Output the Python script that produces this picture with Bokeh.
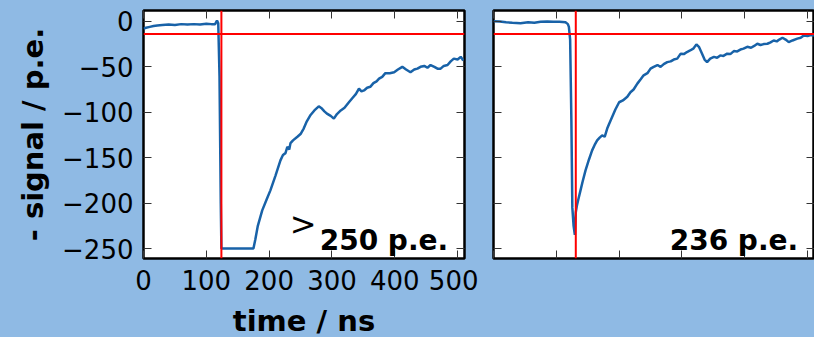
from bokeh.plotting import figure
from bokeh.models import Range1d, LinearAxis, FixedTicker, Span, Label, CustomJSTickFormatter
from bokeh.layouts import row
from bokeh.embed import file_html
from bokeh.resources import INLINE

# ---- data ----
x_ticks = [0, 100, 200, 300, 400, 500]
y_ticks = [-250, -200, -150, -100, -50, 0]
y_tick_labels = {-250: "\u2212250", -200: "\u2212200", -150: "\u2212150",
                 -100: "\u2212100", -50: "\u221250", 0: "0"}

left_t = [0, 4, 10, 16, 22, 30, 40, 50, 60, 70, 80, 90, 100, 108, 114, 117, 119, 121, 123, 124,
          150, 175, 178, 182, 189, 196, 202, 210, 218, 222, 226, 229, 232, 234, 238, 245, 250,
          255, 260, 266, 272, 279, 284, 288, 292, 298, 303, 308, 314, 320, 327, 333, 338, 343,
          347, 351, 356, 361, 366, 371, 375, 380, 385, 392, 399, 405, 412, 418, 425, 431, 436,
          441, 447, 452, 457, 463, 468, 473, 478, 484, 489, 494, 500, 505, 509]
left_v = [-8, -7, -6, -5, -4.4, -4, -3.5, -4, -3, -3.5, -3, -3.5, -2.5, -3, -3, 1, -2, -60, -200, -250,
          -250, -250, -240, -225, -208, -196, -186, -170, -153, -147, -145, -138, -141, -134, -131, -127, -124,
          -118, -110, -103, -98, -93.5, -96, -99, -101.5, -104, -107, -102, -98, -95, -89, -84, -80, -74,
          -77, -76, -73, -72, -68, -66, -63, -61, -57, -57, -56, -53, -50, -53, -56, -53, -52,
          -50, -49, -51, -48, -50, -52, -52, -49, -48, -44, -41, -42, -39, -43]

right_t = [0, 10, 20, 30, 43, 55, 65, 75, 85.5, 95, 105, 114.6, 118.4, 120, 122, 124, 125.5, 127.5,
           129.5, 131, 133, 135, 138.5, 142, 146.5, 152, 157, 161, 165, 169, 173, 177, 181, 184,
           189, 194, 200, 206, 213, 218, 223, 229, 234, 239, 245, 250, 255, 261, 266, 271, 276.6,
           282, 287, 292.5, 298, 303, 308, 313, 318, 323, 327, 332, 336, 340, 345, 351, 356, 361,
           366, 372, 377, 382.6, 388, 393, 398, 404, 410, 415, 420, 425, 430, 436, 441, 446, 451,
           455, 460, 465, 470, 476, 483.6, 489, 494, 500, 505, 510]
right_v = [0.3, 0, -1, -1.5, -2, -1, -1.5, -0.5, 0, -0.5, -0.5, -1, -3, -6, -20, -110, -205, -225,
           -235, -210, -202, -196, -186, -176, -164, -152, -142, -136, -131, -128, -125.5, -127, -118, -113,
           -105, -97, -89, -87, -83, -78, -75, -68.5, -64, -59.4, -57, -52, -50, -48, -50, -47, -44.8,
           -44, -42, -41, -35.5, -36, -33.7, -32, -30, -25.3, -28, -35.5, -42, -44.8, -41, -39, -40, -37.4,
           -38, -35.5, -36, -32.7, -33, -31, -30, -28, -29, -27, -24.6, -26, -25, -24.6, -23, -21, -22,
           -20, -18, -20, -22.8, -21, -19, -18, -15.4, -16, -15, -15.4]

threshold = -14
left_trigger = 124
right_trigger = 131
left_text = "250 p.e."
right_text = "236 p.e."

BG = "#8fbae4"
LINE = "#1862a8"
FONT = "DejaVu Sans"

EMPTY = CustomJSTickFormatter(code="return '';")


def make_fig(t, v, trigger, text, show_labels, min_left, min_right, width):
    p = figure(width=width, height=337, output_backend="svg", toolbar_location=None,
               x_range=Range1d(0, 511), y_range=Range1d(-261, 12),
               frame_width=321, frame_height=248,
               min_border_left=min_left, min_border_right=min_right,
               min_border_top=10, min_border_bottom=79)
    p.background_fill_color = "white"
    p.border_fill_color = BG
    p.outline_line_color = "black"
    p.outline_line_width = 2.5
    p.grid.visible = False

    p.line(t, v, line_color=LINE, line_width=2.5)
    p.add_layout(Span(location=threshold, dimension="width", line_color="red", line_width=2))
    p.add_layout(Span(location=trigger, dimension="height", line_color="red", line_width=2))

    def style(ax, ticks, labels):
        ax.ticker = FixedTicker(ticks=ticks)
        ax.axis_line_color = None
        ax.major_tick_in = 8
        ax.major_tick_out = 0
        ax.major_tick_line_color = "#333333"
        ax.major_tick_line_width = 1
        ax.minor_tick_line_color = None
        ax.major_label_text_font = FONT
        ax.major_label_text_color = "black"
        ax.major_label_text_font_size = "26px"
        if not labels:
            ax.formatter = EMPTY
            ax.major_label_standoff = 0

    style(p.xaxis[0], x_ticks, show_labels)
    style(p.yaxis[0], y_ticks, show_labels)
    if show_labels:
        p.yaxis[0].major_label_overrides = y_tick_labels
        p.xaxis[0].major_label_standoff = 11
        p.yaxis[0].major_label_standoff = 10
        p.xaxis[0].axis_label = "time / ns"
        p.yaxis[0].axis_label = "- signal / p.e."
        for ax in (p.xaxis[0], p.yaxis[0]):
            ax.axis_label_text_font = FONT
            ax.axis_label_text_font_style = "bold"
            ax.axis_label_text_font_size = "29px"
            ax.axis_label_text_color = "black"
        p.xaxis[0].axis_label_standoff = 11
        p.yaxis[0].axis_label_standoff = 9

    ax_r = LinearAxis()
    style(ax_r, y_ticks, False)
    p.add_layout(ax_r, "right")
    ax_t = LinearAxis()
    style(ax_t, x_ticks, False)
    p.add_layout(ax_t, "above")

    p.add_layout(Label(x=485, y=-241, text=text, text_align="right", text_baseline="alphabetic",
                       text_font=FONT, text_font_style="bold", text_font_size="28px",
                       text_color="black"))
    return p


p1 = make_fig(left_t, left_v, left_trigger, left_text, True, 143, 14, 478)
p1.add_layout(Label(x=233, y=-223, text=">", text_align="left", text_baseline="alphabetic",
                    text_font=FONT, text_font_size="32px", text_color="black"))
p2 = make_fig(right_t, right_v, right_trigger, right_text, False, 15, 0, 336)

layout = row(p1, p2, spacing=0)
layout.styles = {"background-color": BG}

open("out.html", "w").write(file_html(layout, INLINE))
